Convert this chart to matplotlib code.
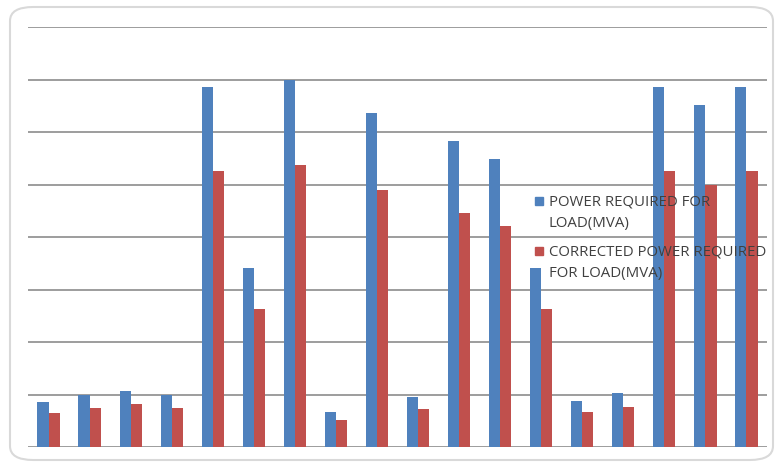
import numpy as np
import matplotlib.pyplot as plt
from matplotlib.patches import FancyBboxPatch, Rectangle

# load per feeder, in gridline units
power_required = [0.86, 1.0, 1.07, 1.0, 6.86, 3.41, 7.0, 0.67, 6.36,
                  0.95, 5.83, 5.49, 3.41, 0.88, 1.03, 6.86, 6.51, 6.86]
corrected_power = [0.65, 0.74, 0.82, 0.74, 5.26, 2.63, 5.37, 0.51, 4.90,
                   0.72, 4.46, 4.21, 2.63, 0.67, 0.76, 5.26, 5.00, 5.26]
labels = ["POWER REQUIRED FOR\nLOAD(MVA)",
          "CORRECTED POWER REQUIRED\nFOR LOAD(MVA)"]

blue = "#4F81BD"
red = "#C0504D"
W, H = 775, 464

fig = plt.figure(figsize=(7.75, 4.64), dpi=100)

# rounded chart border
border = FancyBboxPatch((10 / W, 1 - 461 / H), 763 / W, 453 / H,
                        boxstyle="round,pad=0,rounding_size=0.03",
                        transform=fig.transFigure, facecolor="white",
                        edgecolor="#d9d9d9", linewidth=1.5, zorder=-5)
fig.patches.append(border)

ax = fig.add_axes([28 / W, 16 / H, 739 / W, 420 / H])
ax.patch.set_alpha(0)

x = np.arange(len(power_required))
w = 0.27
ax.bar(x - w / 2, power_required, w, color=blue, zorder=3)
ax.bar(x + w / 2, corrected_power, w, color=red, zorder=3)

ax.set_xlim(-0.5, len(x) - 0.5)
ax.set_ylim(0, 8)
ax.set_yticks(np.arange(0, 9))
ax.yaxis.grid(True, color="#8c8c8c", linewidth=1.2)
ax.tick_params(left=False, bottom=False, labelleft=False, labelbottom=False)
for s in ax.spines.values():
    s.set_visible(False)

# legend drawn by hand so the key sits beside the first line of each label
for i, (lab, col) in enumerate(zip(labels, [blue, red])):
    y0 = 202 + 50 * i
    fig.patches.append(Rectangle((535 / W, 1 - (y0 + 4) / H), 8 / W, 8 / H,
                                 transform=fig.transFigure, color=col,
                                 zorder=5))
    fig.text(549 / W, 1 - (y0 + 10.5) / H, lab, va="center", ha="left",
             fontsize=10.8, family="Open Sans", color="#404040",
             linespacing=1.6, zorder=6)

fig.savefig("out.png", dpi=100)
